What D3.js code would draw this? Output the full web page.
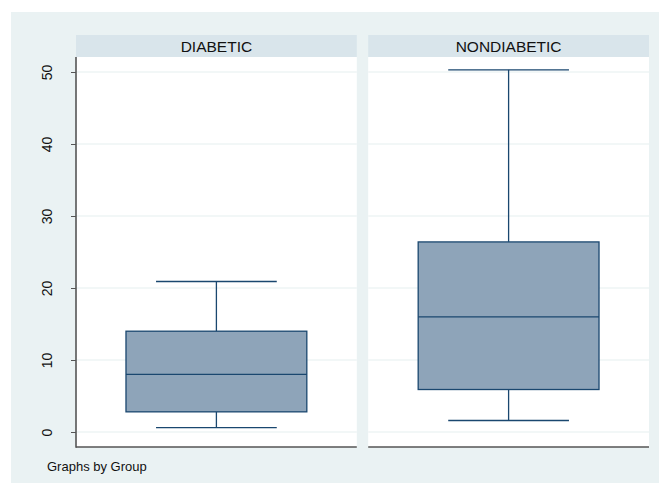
<!DOCTYPE html>
<html>
<head>
<meta charset="utf-8">
<script src="https://cdn.jsdelivr.net/npm/d3@7"></script>
<style>
  body { margin: 0; background: #ffffff; }
  svg { display: block; }
</style>
</head>
<body>
<script>
// box plot summaries per group
var groups = ["DIABETIC", "NONDIABETIC"];
var whiskerLow = [0.6, 1.6];
var q1 = [2.8, 5.9];
var median = [8.0, 16.0];
var q3 = [14.0, 26.4];
var whiskerHigh = [20.9, 50.3];
var yTicks = [0, 10, 20, 30, 40, 50];

var width = 659, height = 483;
var svg = d3.select("body").append("svg")
    .attr("width", width)
    .attr("height", height);

// outer graph region
svg.append("rect")
    .attr("x", 11).attr("y", 12)
    .attr("width", width - 11).attr("height", height - 12)
    .style("fill", "#eaf2f3");

var panelX = d3.scaleBand()
    .domain(groups)
    .range([76, 649])
    .paddingInner(0.039);

var y = d3.scaleLinear().domain([0, 50]).range([432, 72]);

var plotTop = 57, plotBottom = 447, headTop = 35;

groups.forEach(function(g, i) {
    var x0 = panelX(g), w = panelX.bandwidth();
    var p = svg.append("g");

    // header strip
    p.append("rect")
        .attr("x", x0).attr("y", headTop)
        .attr("width", w).attr("height", plotTop - headTop)
        .style("fill", "#d9e5eb");
    p.append("text")
        .attr("x", x0 + w / 2).attr("y", plotTop - 5.5)
        .style("text-anchor", "middle")
        .attr("font-family", "Liberation Sans, Arial, sans-serif")
        .style("font-size", "15.5px")
        .style("fill", "#111")
        .text(g);

    // plot area
    p.append("rect")
        .attr("x", x0).attr("y", plotTop)
        .attr("width", w).attr("height", plotBottom - plotTop)
        .style("fill", "#ffffff");

    // gridlines
    p.selectAll(".grid").data(yTicks).enter().append("line")
        .attr("x1", x0).attr("x2", x0 + w)
        .attr("y1", function(d) { return y(d); })
        .attr("y2", function(d) { return y(d); })
        .style("stroke", "#eef4f5")
        .style("stroke-width", 1.5);

    // box within the panel
    var bx = d3.scaleLinear().domain([0, 1]).range([x0, x0 + w]);
    var cx = bx(0.5);
    var boxL = bx(0.178), boxR = bx(0.822);
    var capL = bx(0.285), capR = bx(0.715);

    p.append("line")
        .attr("x1", cx).attr("x2", cx)
        .attr("y1", y(whiskerHigh[i])).attr("y2", y(q3[i]))
        .style("stroke", "#1a476f").style("stroke-width", 1.3);
    p.append("line")
        .attr("x1", cx).attr("x2", cx)
        .attr("y1", y(q1[i])).attr("y2", y(whiskerLow[i]))
        .style("stroke", "#1a476f").style("stroke-width", 1.3);
    p.append("line")
        .attr("x1", capL).attr("x2", capR)
        .attr("y1", y(whiskerHigh[i])).attr("y2", y(whiskerHigh[i]))
        .style("stroke", "#1a476f").style("stroke-width", 1.3);
    p.append("line")
        .attr("x1", capL).attr("x2", capR)
        .attr("y1", y(whiskerLow[i])).attr("y2", y(whiskerLow[i]))
        .style("stroke", "#1a476f").style("stroke-width", 1.3);
    p.append("rect")
        .attr("x", boxL).attr("y", y(q3[i]))
        .attr("width", boxR - boxL).attr("height", y(q1[i]) - y(q3[i]))
        .style("fill", "#8ea4b9")
        .style("stroke", "#1a476f").style("stroke-width", 1.3);
    p.append("line")
        .attr("x1", boxL).attr("x2", boxR)
        .attr("y1", y(median[i])).attr("y2", y(median[i]))
        .style("stroke", "#1a476f").style("stroke-width", 1.3);

    // bottom axis line
    p.append("line")
        .attr("x1", x0).attr("x2", x0 + w)
        .attr("y1", plotBottom).attr("y2", plotBottom)
        .style("stroke", "#555").style("stroke-width", 1.6);
});

// y axis on the left panel
var yAxis = d3.axisLeft(y).tickValues(yTicks).tickSize(5).tickPadding(14);
var ag = svg.append("g")
    .attr("transform", "translate(76,0)")
    .call(yAxis);
ag.select(".domain").remove();
ag.append("line")
    .attr("x1", 0).attr("x2", 0)
    .attr("y1", plotTop).attr("y2", plotBottom + 0.8)
    .style("stroke", "#555").style("stroke-width", 1.6);
ag.selectAll(".tick line").style("stroke", "#555");
ag.selectAll(".tick text")
    .attr("transform", function(d) { return "translate(-29,0) rotate(-90)"; })
    .attr("x", 0).attr("y", 0)
    .attr("dy", "0.35em")
    .style("text-anchor", "middle")
    .attr("font-family", "Liberation Sans, Arial, sans-serif")
    .style("font-size", "14px")
    .style("fill", "#111");

svg.append("text")
    .attr("x", 47).attr("y", 471)
    .attr("font-family", "Liberation Sans, Arial, sans-serif")
    .style("font-size", "13px")
    .style("fill", "#111")
    .text("Graphs by Group");
</script>
</body>
</html>
